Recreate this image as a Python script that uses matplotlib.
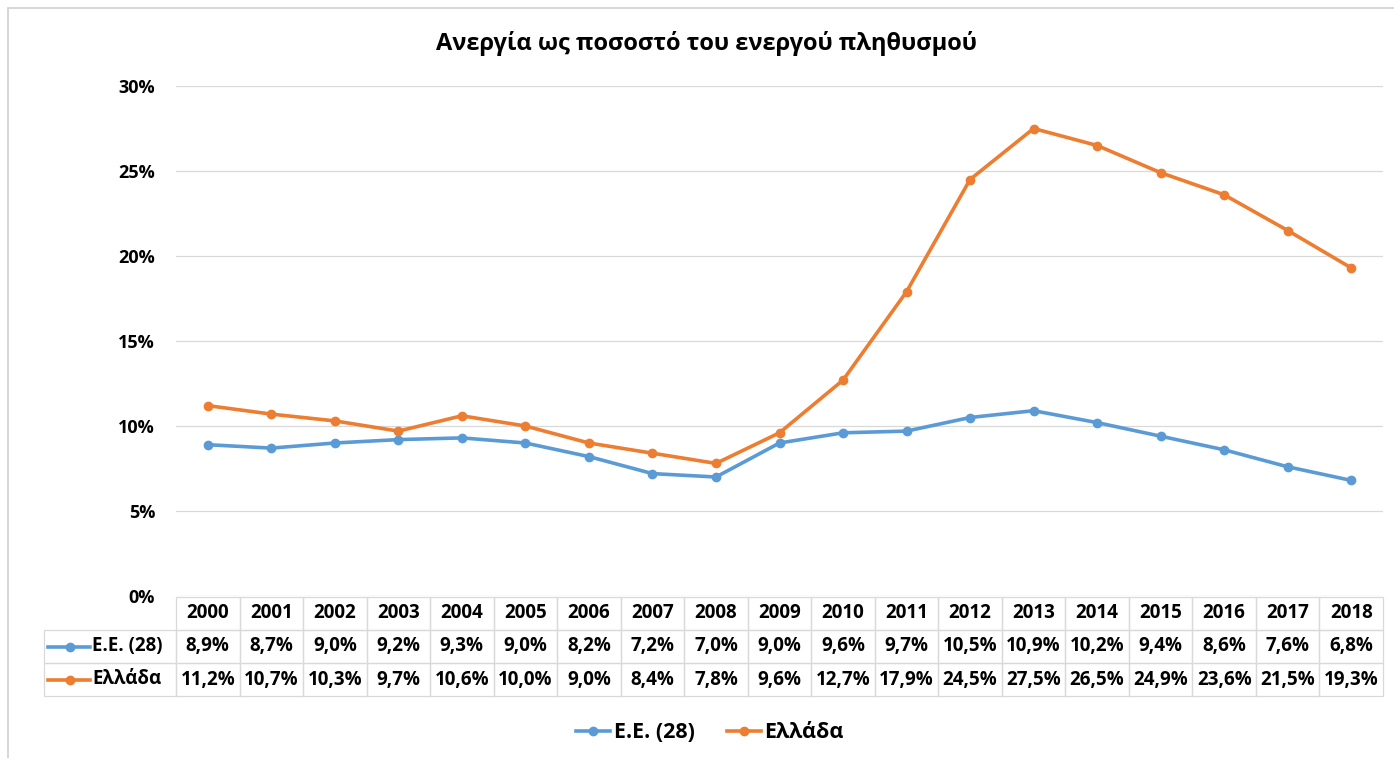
import numpy as np
import matplotlib
matplotlib.use("Agg")
import matplotlib.pyplot as plt
from matplotlib.lines import Line2D
from matplotlib.patches import Rectangle
from matplotlib.transforms import blended_transform_factory

plt.rcParams['font.family'] = ['Open Sans', 'DejaVu Sans']
plt.rcParams['font.weight'] = 'bold'

years = [str(y) for y in range(2000, 2019)]
eu28 = [8.9, 8.7, 9.0, 9.2, 9.3, 9.0, 8.2, 7.2, 7.0, 9.0, 9.6, 9.7, 10.5, 10.9, 10.2, 9.4, 8.6, 7.6, 6.8]
greece = [11.2, 10.7, 10.3, 9.7, 10.6, 10.0, 9.0, 8.4, 7.8, 9.6, 12.7, 17.9, 24.5, 27.5, 26.5, 24.9, 23.6, 21.5, 19.3]
series_names = ['Ε.Ε. (28)', 'Ελλάδα']
colors = ['#5B9BD5', '#ED7D31']
yticks = [0, 5, 10, 15, 20, 25, 30]

W, H = 1394, 758
fig = plt.figure(figsize=(W / 100, H / 100), dpi=100)
fig.set_facecolor('white')

# chart border
fig.patches.append(Rectangle((8 / W, -0.05), 1.1, 1 - 8 / H + 0.05, transform=fig.transFigure,
                             fill=False, edgecolor='#d0d0d0', linewidth=1.2))

x0, x1, ytop, ybot = 176, 1383, 86, 596
ax = fig.add_axes([x0 / W, (H - ybot) / H, (x1 - x0) / W, (ybot - ytop) / H])

xs = np.arange(len(years))
for vals, name, c in zip([eu28, greece], series_names, colors):
    ax.plot(xs, vals, '-o', color=c, linewidth=2.6, markersize=6, label=name, zorder=3)

ax.set_xlim(-0.5, len(years) - 0.5)
ax.set_ylim(0, 30)
ax.set_yticks(yticks)
ax.set_yticklabels([f'{t}%' for t in yticks], fontsize=13, fontweight='bold')
ax.tick_params(axis='y', length=0, pad=15)
ax.set_xticks([])
ax.grid(axis='y', color='#d9d9d9', linewidth=0.9)
for s in ax.spines.values():
    s.set_visible(False)

fig.text(706 / W, 1 - 44 / H, 'Ανεργία ως ποσοστό του ενεργού πληθυσμού',
         fontsize=17, fontweight='bold', ha='center', va='center')

# data table under the axis: x in data units, y in axes fraction
tr = blended_transform_factory(ax.transData, ax.transAxes)
axh = ybot - ytop
col_w = (x1 - x0) / len(years)
lab_left = -0.5 - (x0 - 44) / col_w
row_edges = [(596 - y) / axh for y in (597, 630, 663, 696)]
cell_text = [[f'{v:.1f}%'.replace('.', ',') for v in eu28],
             [f'{v:.1f}%'.replace('.', ',') for v in greece]]
grid_kw = dict(fill=False, edgecolor='#d9d9d9', linewidth=0.9, transform=tr, clip_on=False)

for r in range(3):
    top, bot = row_edges[r], row_edges[r + 1]
    yc = (top + bot) / 2
    texts = years if r == 0 else cell_text[r - 1]
    for i, t in enumerate(texts):
        ax.add_patch(Rectangle((i - 0.5, bot), 1, top - bot, **grid_kw))
        ax.text(i, yc, t, transform=tr, ha='center', va='center', fontsize=13.5,
                fontweight='bold', clip_on=False)
    if r > 0:
        ax.add_patch(Rectangle((lab_left, bot), -0.5 - lab_left, top - bot, **grid_kw))
        ax.text(-0.5 - (x0 - 92) / col_w, yc, series_names[r - 1], transform=tr,
                ha='left', va='center', fontsize=13.5, fontweight='bold', clip_on=False)
        c = colors[r - 1]
        yk = 1 - (647 + 33 * (r - 1)) / H
        fig.add_artist(Line2D([48 / W, 90 / W], [yk, yk], color=c, linewidth=2.6,
                              transform=fig.transFigure))
        fig.add_artist(Line2D([70 / W], [yk], marker='o', markersize=6, color=c,
                              transform=fig.transFigure))

leg = fig.legend(loc='center', bbox_to_anchor=(710 / W, 1 - 733 / H), ncol=2, frameon=False,
                 prop={'size': 15.5, 'weight': 'bold'}, handlelength=1.6, columnspacing=1.5,
                 handletextpad=0.15)

fig.savefig('out.png', dpi=100, facecolor='white')
